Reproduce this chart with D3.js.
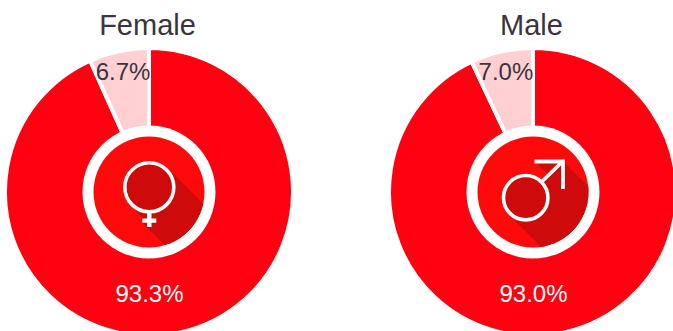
<!DOCTYPE html>
<html>
<head>
<meta charset="utf-8">
<script src="https://cdn.jsdelivr.net/npm/d3@7/dist/d3.min.js"></script>
<style>
  html, body { margin: 0; padding: 0; background: #fff; overflow: hidden; }
  svg { display: block; }
  text { font-family: "Liberation Sans", Arial, sans-serif; }
</style>
</head>
<body>
<svg id="chart" width="673" height="331"></svg>
<script>
// Share of each group, one donut per gender
const groups = ["Female", "Male"];
const mainShare = [93.3, 93.0];
const otherShare = [6.7, 7.0];

const RED = "#ff0010", PALE = "#ffcfd2", DISC = "#ff0a0a", SHADE = "#cf0a0a", INK = "#3b3340";

const svg = d3.select("#chart");
const outerR = 144, ringR = 66.5, discR = 55.5, centerY = 192;

// Each donut's centre comes from a point scale over the groups
const centers = d3.scalePoint().domain(groups).range([149, 533]);

const pie = d3.pie().sort(null).value(d => d);
const arc = d3.arc().innerRadius(0).outerRadius(outerR);

// Symbols and their long shadows, in coordinates relative to the disc centre
function drawFemale(g) {
  g.append("path").attr("fill", SHADE).attr("clip-path", "url(#disc-clip)")
    .attr("d", "M-18.4,14 L-6.5,26 V31 L60,97.5 L110,67 L19,-23.4 Z");
  g.append("circle").attr("cx", 0.3).attr("cy", -4.7).attr("r", 24.5)
    .attr("fill", SHADE).attr("stroke", "#fff").attr("stroke-width", 3.6);
  g.append("path").attr("fill", "none").attr("stroke", "#fff").attr("stroke-width", 4.4)
    .attr("d", "M0.3,20 V35 M-6.7,28.6 H7.3");
}

function drawMale(g) {
  g.append("path").attr("fill", SHADE).attr("clip-path", "url(#disc-clip)")
    .attr("d", "M1.5,-31 H30 L100,39 L60,107 L-24,23 L-7,6 L15.5,-17 Z");
  g.append("circle").attr("cx", -7.3).attr("cy", 5.7).attr("r", 22.2)
    .attr("fill", SHADE).attr("stroke", "#fff").attr("stroke-width", 3.6);
  g.append("path").attr("fill", "none").attr("stroke", "#fff").attr("stroke-width", 3.8)
    .attr("d", "M8.5,-10 L29.5,-30.5 M1.5,-30.5 H30 V-3");
}

svg.append("defs").append("clipPath").attr("id", "disc-clip")
  .append("circle").attr("r", discR);

const symbols = { Female: drawFemale, Male: drawMale };

groups.forEach((name, i) => {
  const g = svg.append("g").attr("transform", `translate(${centers(name)},${centerY})`);
  const slices = pie([mainShare[i], otherShare[i]]);

  g.selectAll("path.slice").data(slices).join("path")
    .attr("class", "slice")
    .attr("d", arc)
    .attr("fill", (d, k) => k === 0 ? RED : PALE)
    .attr("stroke", "#fff")
    .attr("stroke-width", 4);

  g.append("circle").attr("r", ringR).attr("fill", "#fff");
  g.append("circle").attr("r", discR).attr("fill", DISC);
  symbols[name](g);

  g.append("text").attr("x", -1.5).attr("y", -157).attr("text-anchor", "middle")
    .attr("font-size", 29).attr("fill", INK).text(name);

  // The small share sits near the rim, the large one straight below the disc
  const mid = (slices[1].startAngle + slices[1].endAngle) / 2;
  g.append("text")
    .attr("x", 122 * Math.sin(mid) - 0.5)
    .attr("y", -112)
    .attr("text-anchor", "middle")
    .attr("font-size", 24).attr("fill", INK)
    .text(otherShare[i].toFixed(1) + "%");
  g.append("text")
    .attr("x", 0.5)
    .attr("y", 109.5)
    .attr("text-anchor", "middle")
    .attr("font-size", 24).attr("fill", "#fff")
    .text(mainShare[i].toFixed(1) + "%");
});
</script>
</body>
</html>
